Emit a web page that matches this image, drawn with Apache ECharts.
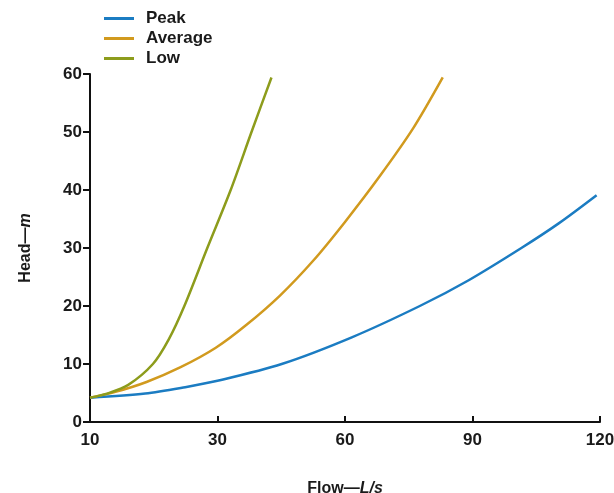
<!DOCTYPE html>
<html>
<head>
<meta charset="utf-8">
<script src="https://cdn.jsdelivr.net/npm/echarts@6/dist/echarts.min.js"></script>
<style>
  html, body { margin: 0; padding: 0; background: #fff; }
  #pump { width: 614px; height: 493px; }
</style>
</head>
<body>
<div id="pump"></div>
<script>
	// x positions along the axis (first tick is labelled 10)
	var flowPeak = [0, 13, 22.4, 30, 45.1, 61.6, 77.6, 89, 101.5, 110.2, 119.2];
	var headPeak = [4.2, 4.9, 6.0, 7.1, 10, 14.6, 20, 24.4, 30, 34.2, 39.1];

	var flowAvg = [0, 6, 13.3, 21.2, 29.6, 36.9, 44.7, 52.5, 60, 68.2, 76.1, 83.0];
	var headAvg = [4.2, 5.2, 6.9, 9.4, 12.8, 16.8, 21.8, 27.8, 34.5, 42.4, 50.7, 59.4];

	var flowLow = [0, 4, 9, 14.8, 18.5, 22.2, 27.6, 33.1, 38, 42.7];
	var headLow = [4.2, 4.9, 6.4, 10, 14.2, 20, 30, 40, 50, 59.4];

	var xTickText = {0: '10', 30: '30', 60: '60', 90: '90', 120: '120'};

	function pairs(xs, ys) {
		var out = [];
		for (var i = 0; i < xs.length; i++) {
			out.push([xs[i], ys[i]]);
		}
		return out;
	}

	var myChart = echarts.init(document.getElementById('pump'));
	var font = 'Liberation Sans, Arial, sans-serif';
	var ink = '#1a1a1a';

	option = {
		backgroundColor: '#fff',
		animation: false,
		grid: { left: 90, right: 14, top: 74, bottom: 71, outerBoundsMode: 'none' },
		legend: {
			orient: 'vertical',
			left: 99,
			top: 5,
			icon: 'rect',
			itemWidth: 30,
			itemHeight: 3,
			itemGap: 3,
			textStyle: { fontFamily: font, fontWeight: 'bold', fontSize: 17, color: ink, padding: [0, 0, 0, 7] },
			data: ['Peak', 'Average', 'Low']
		},
		xAxis: {
			type: 'value',
			min: 0,
			max: 120,
			interval: 30,
			splitLine: { show: false },
			axisLine: { lineStyle: { color: '#111', width: 2 } },
			axisTick: { show: true, inside: true, length: 6, lineStyle: { color: '#111', width: 2 } },
			axisLabel: {
				margin: 10,
				fontFamily: font, fontWeight: 'bold', fontSize: 17, color: ink,
				formatter: function (v) { return xTickText[v]; }
			},
			name: '{a|Flow—}{b|L/s}',
			nameLocation: 'middle',
			nameGap: 59,
			nameTextStyle: {
				rich: {
					a: { fontFamily: font, fontWeight: 'bold', fontSize: 16, color: ink },
					b: { fontFamily: font, fontWeight: 'bold', fontStyle: 'italic', fontSize: 16, color: ink }
				}
			}
		},
		yAxis: {
			type: 'value',
			min: 0,
			max: 60,
			interval: 10,
			splitLine: { show: false },
			axisLine: { show: true, lineStyle: { color: '#111', width: 2 } },
			axisTick: { show: true, length: 7, lineStyle: { color: '#111', width: 2 } },
			axisLabel: { margin: 8, fontFamily: font, fontWeight: 'bold', fontSize: 17, color: ink },
			name: '{a|Head—}{b|m}',
			nameLocation: 'middle',
			nameGap: 56,
			nameTextStyle: {
				rich: {
					a: { fontFamily: font, fontWeight: 'bold', fontSize: 16, color: ink },
					b: { fontFamily: font, fontWeight: 'bold', fontStyle: 'italic', fontSize: 16, color: ink }
				}
			}
		},
		series: [
			{
				name: 'Peak',
				type: 'line',
				smooth: 0.3,
				showSymbol: false,
				color: '#1b7cc2',
				lineStyle: { width: 2.5 },
				data: pairs(flowPeak, headPeak)
			},
			{
				name: 'Average',
				type: 'line',
				smooth: 0.3,
				showSymbol: false,
				color: '#d19a1e',
				lineStyle: { width: 2.5 },
				data: pairs(flowAvg, headAvg)
			},
			{
				name: 'Low',
				type: 'line',
				smooth: 0.3,
				showSymbol: false,
				color: '#8d9c1c',
				lineStyle: { width: 2.5 },
				data: pairs(flowLow, headLow)
			}
		]
	};

	myChart.setOption(option);
</script>
</body>
</html>
